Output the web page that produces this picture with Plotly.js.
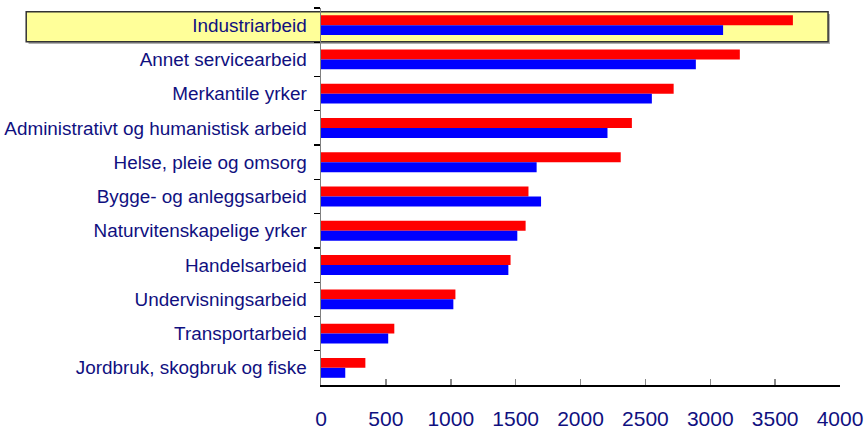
<!DOCTYPE html>
<html>
<head>
<meta charset="utf-8">
<script src="https://cdn.plot.ly/plotly-3.0.1.min.js"></script>
<style>html,body{margin:0;padding:0;background:#fff;}#chart{width:868px;height:429px;}</style>
</head>
<body>
<div id="chart"></div>
<script>
// Categories listed top to bottom as shown
const categories = [
  "Industriarbeid",
  "Annet servicearbeid",
  "Merkantile yrker",
  "Administrativt og humanistisk arbeid",
  "Helse, pleie og omsorg",
  "Bygge- og anleggsarbeid",
  "Naturvitenskapelige yrker",
  "Handelsarbeid",
  "Undervisningsarbeid",
  "Transportarbeid",
  "Jordbruk, skogbruk og fiske"
];
const redValues  = [3637, 3228, 2718, 2396, 2310, 1599, 1577, 1461, 1036, 565, 342];
const blueValues = [3099, 2889, 2550, 2208, 1662, 1696, 1513, 1444, 1020, 518, 187];
const xTickValues = [0, 500, 1000, 1500, 2000, 2500, 3000, 3500, 4000];

const textColor = "#10107f";
const font = "Arial, 'Liberation Sans', sans-serif";

const traces = [
  {type: "bar", orientation: "h", y: categories, x: redValues,
   marker: {color: "#ff0000"}, hoverinfo: "x+y", name: "red"},
  {type: "bar", orientation: "h", y: categories, x: blueValues,
   marker: {color: "#0000ff"}, hoverinfo: "x+y", name: "blue"}
];

const layout = {
  width: 868, height: 429,
  margin: {l: 321, r: 28, t: 8, b: 44},
  paper_bgcolor: "#ffffff", plot_bgcolor: "rgba(0,0,0,0)",
  barmode: "group", bargap: 0.42, bargroupgap: 0,
  showlegend: false,
  font: {family: font, color: textColor, size: 18},
  xaxis: {
    range: [0, 4000], tickvals: xTickValues, ticktext: xTickValues.map(String),
    showgrid: false, zeroline: false,
    showline: true, linecolor: "#000000", linewidth: 1.5,
    ticks: "inside", ticklen: 6, tickcolor: "#888888", tickwidth: 1.5,
    ticklabelstandoff: 14,
    tickfont: {family: font, size: 21, color: textColor},
    fixedrange: true
  },
  yaxis: {
    type: "category", autorange: "reversed",
    showgrid: false, zeroline: false,
    showline: true, linecolor: "#808080", linewidth: 1.5,
    ticks: "outside", ticklen: 6, tickcolor: "#000000", tickwidth: 1.2,
    tickson: "boundaries",
    ticklabelstandoff: 9,
    tickfont: {family: font, size: 18.9, color: textColor},
    fixedrange: true
  },
  shapes: [
    {type: "rect", xref: "paper", yref: "paper", layer: "below",
     x0: -0.5635, x1: 0.9807, y0: 0.9045, y1: 0.9841,
     fillcolor: "#b0b0b0", line: {width: 0}},
    {type: "rect", xref: "paper", yref: "paper", layer: "below",
     x0: -0.568, x1: 0.977, y0: 0.9106, y1: 0.9902,
     fillcolor: "#ffff99", line: {color: "#333333", width: 1.5}}
  ]
};

Plotly.newPlot("chart", traces, layout, {displayModeBar: false, staticPlot: true});
</script>
</body>
</html>
